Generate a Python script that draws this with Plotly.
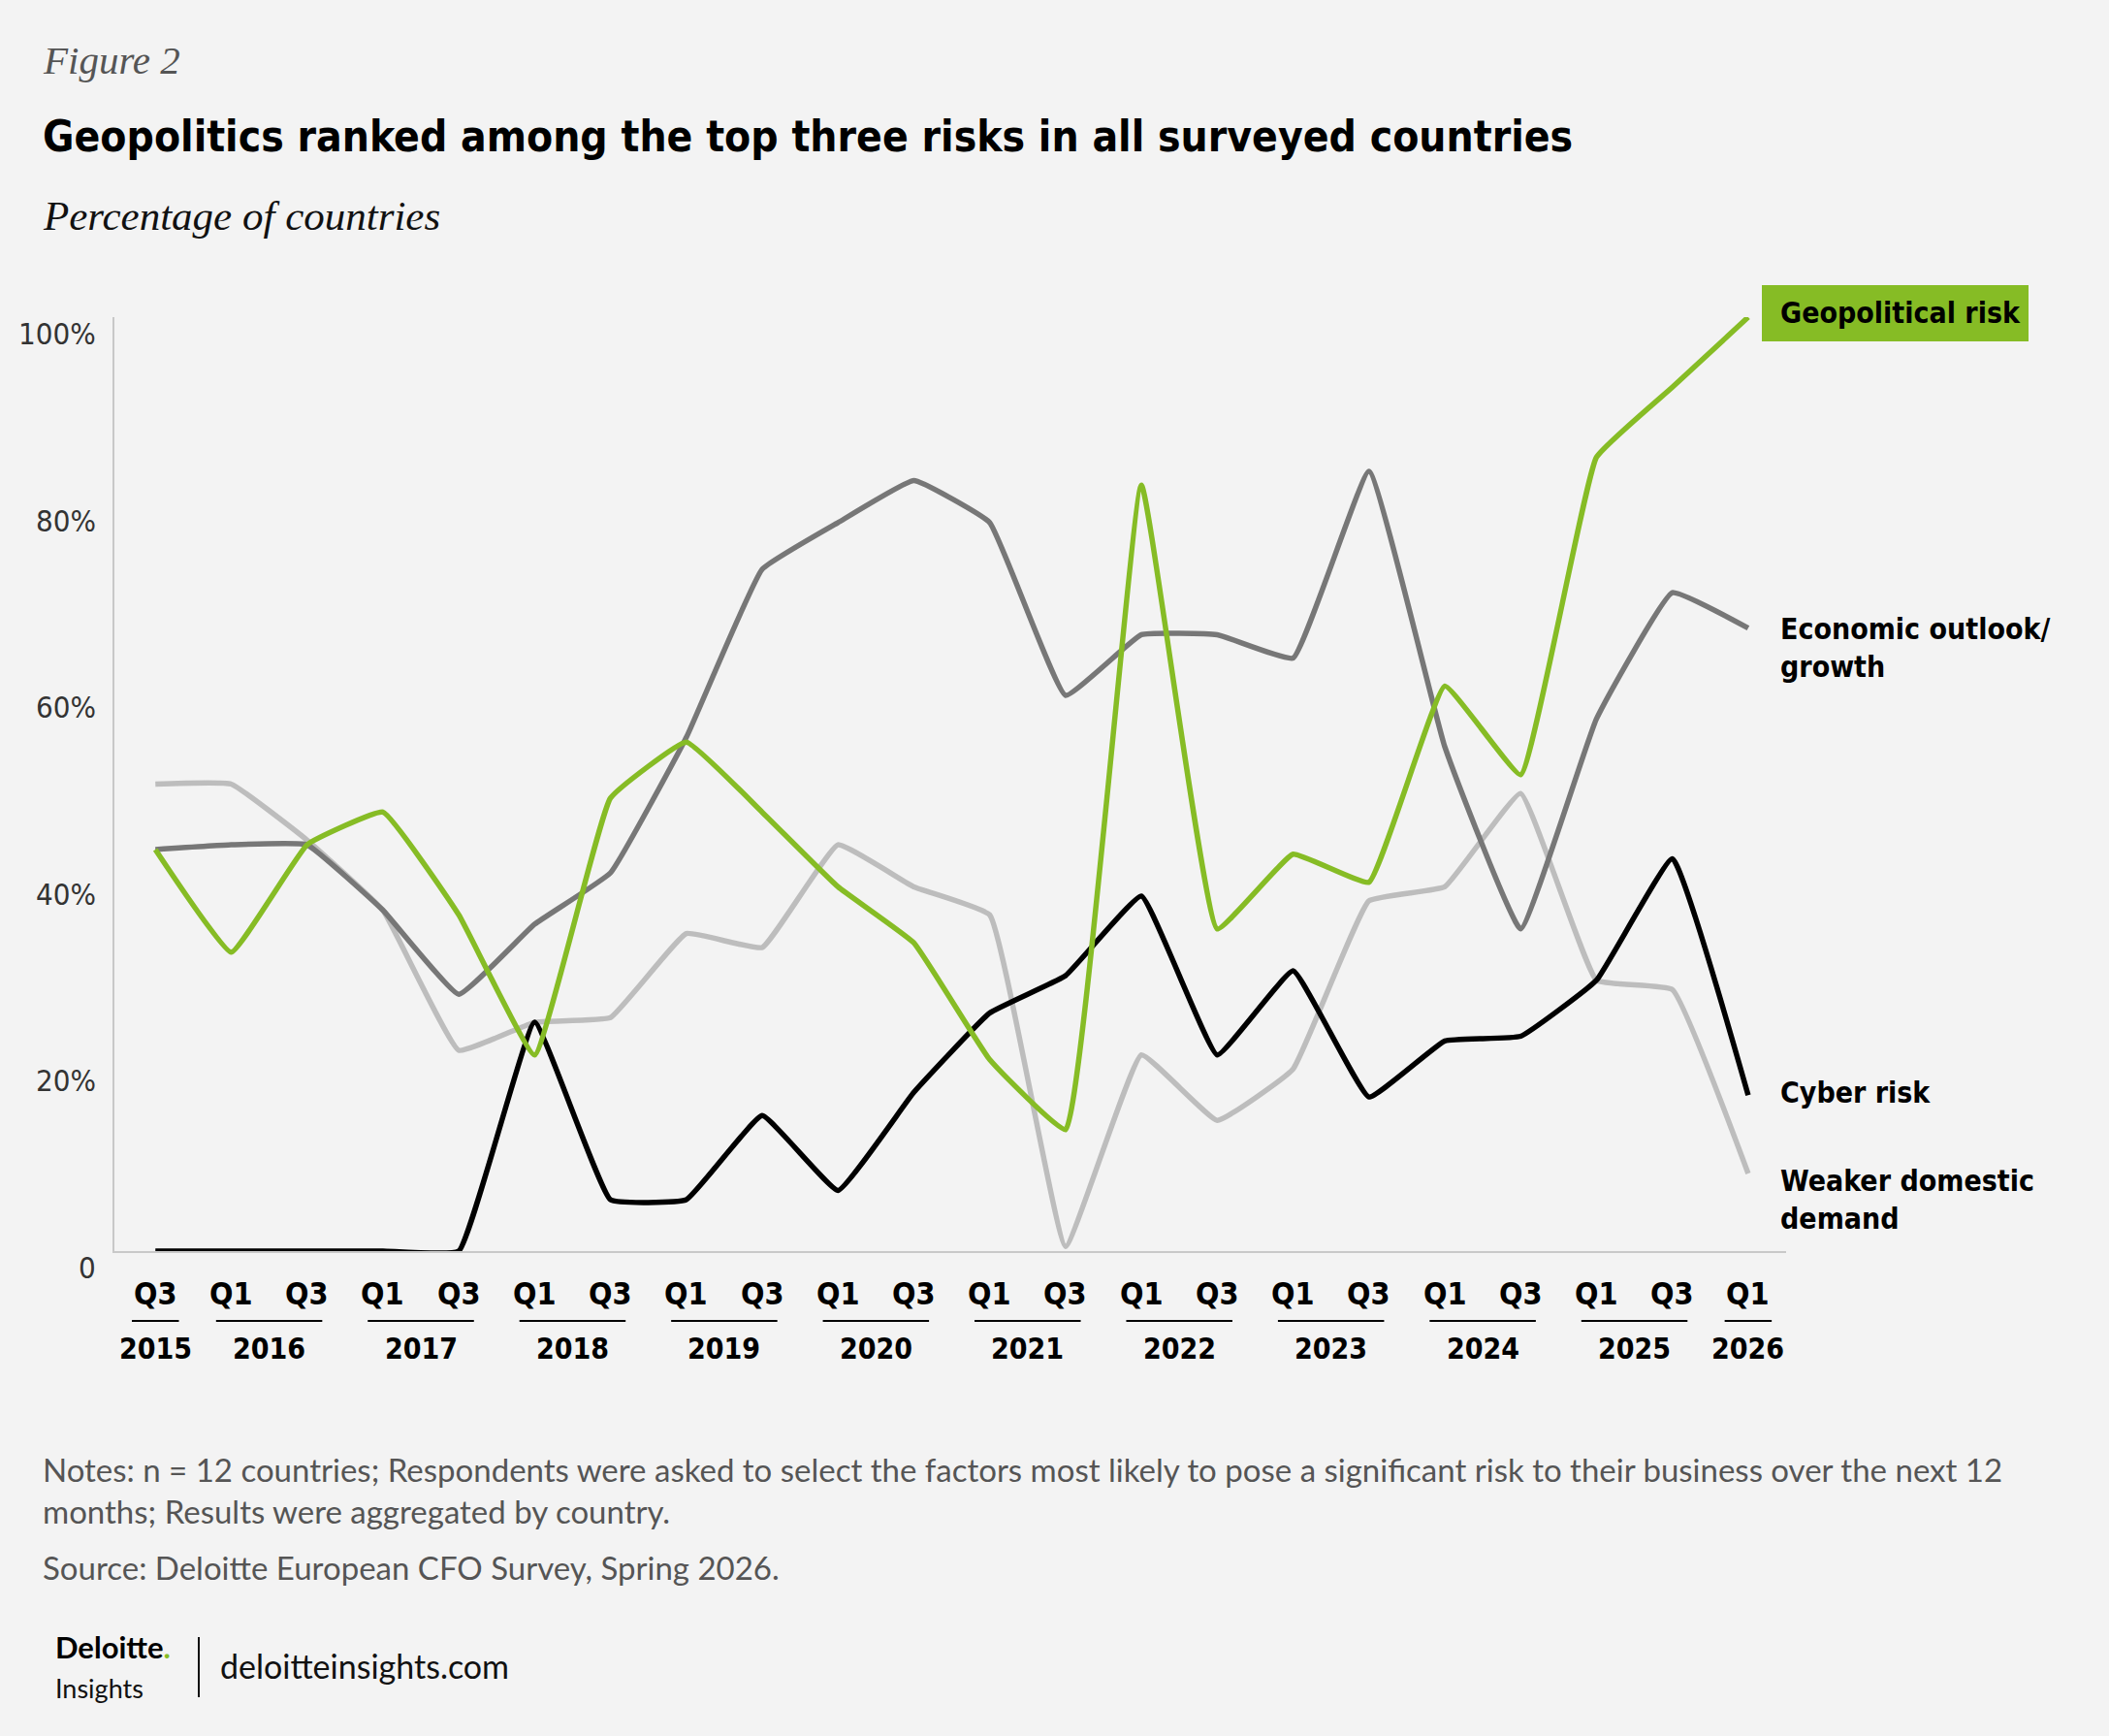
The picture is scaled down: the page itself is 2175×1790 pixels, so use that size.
import plotly.graph_objects as go

# colors
green = "#86BC25"
dark_gray = "#777777"
light_gray = "#BDBDBD"
black = "#000000"
bg = "#F3F3F3"

# data (percentage of countries), half-yearly surveys
quarters = ["Q3", "Q1", "Q3", "Q1", "Q3", "Q1", "Q3", "Q1", "Q3", "Q1", "Q3",
            "Q1", "Q3", "Q1", "Q3", "Q1", "Q3", "Q1", "Q3", "Q1", "Q3", "Q1"]
years = ["2015", "2016", "2016", "2017", "2017", "2018", "2018", "2019", "2019", "2020", "2020",
         "2021", "2021", "2022", "2022", "2023", "2023", "2024", "2024", "2025", "2025", "2026"]

geopolitical = [43, 32, 43.5, 47, 36, 21, 48.5, 54.5, 47, 39, 33,
                20.5, 13, 82, 34.5, 42.5, 39.5, 60.5, 51, 85, 92.5, 100]
economic = [43, 43.5, 43.5, 36.5, 27.5, 35, 40.5, 55, 73, 78, 82.5,
            78, 59.5, 66, 66, 63.5, 83.5, 54, 34.5, 57, 70.5, 66.7]
weaker_demand = [50, 50, 44, 36.5, 21.5, 24.5, 25, 34, 32.5, 43.5, 39,
                 36, 0.5, 21, 14, 19.5, 37.5, 39, 49, 29, 28, 8.3]
cyber = [0, 0, 0, 0, 0, 24.5, 5.5, 5.5, 14.5, 6.5, 17,
         25.5, 29.5, 38, 21, 30, 16.5, 22.5, 23, 29, 42, 16.7]

y_ticks = [0, 20, 40, 60, 80, 100]
y_ticktext = ["0", "20%", "40%", "60%", "80%", "100%"]

W, H = 2175, 1790
L, R, T, B = 118, 333, 327, 500
PW = W - L - R
PH = H - T - B


def xp(p):
    return (p - L) / PW


def yp(p):
    return (H - B - p) / PH


narrow = "DejaVu Sans Condensed, sans-serif"
serif = "Liberation Serif, DejaVu Serif, serif"
body = "Lato, Open Sans, sans-serif"

xs = list(range(len(quarters)))

fig = go.Figure()
for vals, col in [(weaker_demand, light_gray), (economic, dark_gray), (cyber, black), (geopolitical, green)]:
    fig.add_trace(go.Scatter(x=xs, y=vals, mode="lines", cliponaxis=False,
                             line=dict(color=col, width=5.5, shape="spline", smoothing=0.3),
                             hoverinfo="skip"))

ann = []
# y tick labels, sitting a little below each value
for v, t in zip(y_ticks, y_ticktext):
    ann.append(dict(x=xp(101), xref="paper", y=v, yref="y", yshift=-17, text=t,
                    xanchor="right", yanchor="middle", showarrow=False,
                    font=dict(family=narrow, size=31, color="#333333")))

# quarter labels
for i, q in enumerate(quarters):
    ann.append(dict(x=i, xref="x", y=yp(1334), yref="paper", text="<b>%s</b>" % q,
                    xanchor="center", yanchor="middle", showarrow=False,
                    font=dict(family=narrow, size=32, color="#000000")))

# year labels with underline
shapes = []
for yr in sorted(set(years)):
    idx = [i for i, y in enumerate(years) if y == yr]
    mid = sum(idx) / len(idx)
    pad = 0.31 if len(idx) == 1 else 0.2
    ann.append(dict(x=mid, xref="x", y=yp(1390), yref="paper", text="<b>%s</b>" % yr,
                    xanchor="center", yanchor="middle", showarrow=False,
                    font=dict(family=narrow, size=30, color="#000000")))
    shapes.append(dict(type="line", xref="x", yref="paper", x0=idx[0] - pad, x1=idx[-1] + pad,
                       y0=yp(1362), y1=yp(1362), line=dict(color="#000000", width=2)))

# series labels
shapes.append(dict(type="rect", xref="paper", yref="paper", x0=xp(1817), x1=xp(2092),
                   y0=yp(352), y1=yp(294), fillcolor=green, line=dict(width=0), layer="below"))
labels = [("Geopolitical risk", 323), ("Economic outlook/<br>growth", 668),
          ("Cyber risk", 1126), ("Weaker domestic<br>demand", 1237)]
for txt, ypix in labels:
    ann.append(dict(x=xp(1834), xref="paper", y=yp(ypix), yref="paper", text="<b>%s</b>" % txt,
                    xanchor="left", yanchor="middle", align="left", showarrow=False,
                    font=dict(family=narrow, size=30, color="#000000")))

# titles
ann.append(dict(x=xp(42), xref="paper", y=yp(62), yref="paper", text="<i>Figure 2</i>",
                xanchor="left", yanchor="middle", showarrow=False,
                font=dict(family=serif, size=41, color="#555555")))
ann.append(dict(x=xp(42), xref="paper", y=yp(141), yref="paper",
                text="<b>Geopolitics ranked among the top three risks in all surveyed countries</b>",
                xanchor="left", yanchor="middle", showarrow=False,
                font=dict(family=narrow, size=44, color="#000000")))
ann.append(dict(x=xp(42), xref="paper", y=yp(222), yref="paper", text="<i>Percentage of countries</i>",
                xanchor="left", yanchor="middle", showarrow=False,
                font=dict(family=serif, size=43, color="#111111")))

# notes and source
notes = ("Notes: n = 12 countries; Respondents were asked to select the factors most likely to pose a "
         "significant risk to their business over the next 12<br>months; Results were aggregated by country.")
ann.append(dict(x=xp(42), xref="paper", y=yp(1536), yref="paper", text=notes,
                xanchor="left", yanchor="middle", align="left", showarrow=False,
                font=dict(family=body, size=33, color="#555555")))
ann.append(dict(x=xp(42), xref="paper", y=yp(1616), yref="paper",
                text="Source: Deloitte European CFO Survey, Spring 2026.",
                xanchor="left", yanchor="middle", showarrow=False,
                font=dict(family=body, size=33, color="#555555")))

# footer
ann.append(dict(x=xp(55), xref="paper", y=yp(1698), yref="paper",
                text="<b>Deloitte</b><span style='color:%s'><b>.</b></span>" % green,
                xanchor="left", yanchor="middle", showarrow=False,
                font=dict(family=body, size=31, color="#000000")))
ann.append(dict(x=xp(55), xref="paper", y=yp(1740), yref="paper", text="Insights",
                xanchor="left", yanchor="middle", showarrow=False,
                font=dict(family=body, size=27, color="#111111")))
shapes.append(dict(type="line", xref="paper", yref="paper", x0=xp(205), x1=xp(205),
                   y0=yp(1750), y1=yp(1688), line=dict(color="#111111", width=2)))
ann.append(dict(x=xp(225), xref="paper", y=yp(1717), yref="paper", text="deloitteinsights.com",
                xanchor="left", yanchor="middle", showarrow=False,
                font=dict(family=body, size=34, color="#111111")))

fig.update_layout(
    width=W, height=H,
    margin=dict(l=L, r=R, t=T, b=B),
    paper_bgcolor=bg, plot_bgcolor=bg,
    showlegend=False,
    annotations=ann, shapes=shapes,
)
fig.update_xaxes(range=[-0.54, 21.5], showgrid=False, zeroline=False, showticklabels=False,
                 showline=True, linecolor="#C8C8C8", linewidth=2)
fig.update_yaxes(range=[0, 100], showgrid=False, zeroline=False, showticklabels=False,
                 showline=True, linecolor="#C8C8C8", linewidth=2)

fig.write_html("out.html", config={"displayModeBar": False},
               post_script="document.body.style.margin='0';")
